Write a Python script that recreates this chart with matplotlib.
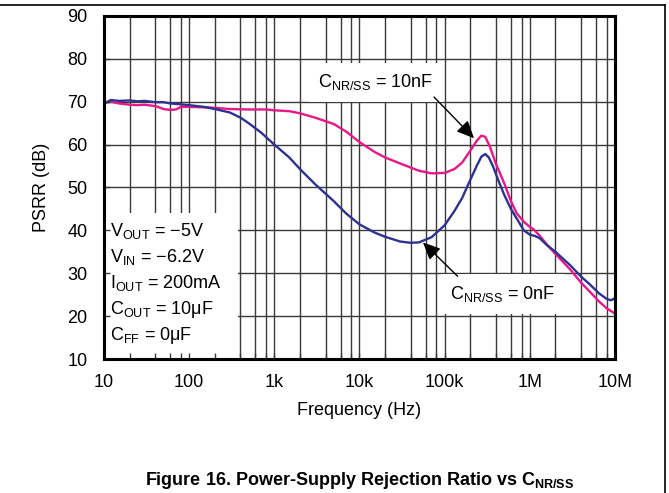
import matplotlib
matplotlib.use("Agg")
import matplotlib.pyplot as plt
from matplotlib.lines import Line2D
from matplotlib.patches import Rectangle
from matplotlib.ticker import FixedLocator, NullFormatter, FixedFormatter

plt.rcParams['font.family'] = ['Liberation Sans', 'DejaVu Sans']
plt.rcParams['mathtext.fontset'] = 'custom'
plt.rcParams['mathtext.rm'] = 'Liberation Sans'
plt.rcParams['mathtext.it'] = 'Liberation Sans:italic'
plt.rcParams['mathtext.bf'] = 'Liberation Sans:bold'
plt.rcParams['mathtext.default'] = 'rm'

# ---------------- data ----------------
freq_10nF = [10, 12, 15, 20, 25, 30, 40, 50, 60, 70, 80, 100, 150, 200, 300, 500, 800,
             1000, 1500, 2000, 3000, 5000, 7000, 10000, 15000, 20000, 30000, 50000,
             70000, 100000, 130000, 160000, 200000, 240000, 270000, 300000, 340000,
             400000, 500000, 600000, 700000, 850000, 1.0e6, 1.1e6, 1.3e6, 1.6e6, 2.0e6,
             3.0e6, 4.0e6, 5.0e6, 6.5e6, 8.0e6, 1.0e7]
psrr_10nF = [69.8, 70.0, 69.6, 69.3, 69.2, 69.3, 69.0, 68.3, 68.1, 68.2, 68.8, 68.8, 68.7,
             68.6, 68.3, 68.2, 68.2, 68.0, 67.8, 67.3, 66.3, 64.8, 63.0, 60.6, 58.3, 57.0,
             55.6, 53.9, 53.3, 53.4, 54.3, 55.8, 58.6, 61.0, 62.1, 61.8, 59.5, 55.5, 51.0,
             46.8, 44.0, 42.0, 40.8, 40.3, 38.8, 36.6, 34.5, 30.8, 27.8, 25.8, 23.4, 21.8,
             20.6]

freq_0nF = [10, 11, 12, 15, 20, 25, 30, 40, 50, 60, 80, 100, 150, 200, 300, 400, 500, 700,
            1000, 1500, 2000, 3000, 5000, 7000, 10000, 15000, 20000, 30000, 40000, 50000,
            70000, 100000, 130000, 160000, 200000, 240000, 270000, 300000, 330000, 370000,
            430000, 500000, 600000, 700000, 850000, 1.0e6, 1.15e6, 1.3e6, 1.6e6, 2.0e6,
            3.0e6, 4.0e6, 5.0e6, 6.5e6, 8.0e6, 9.0e6, 1.0e7]
psrr_0nF = [69.5, 70.0, 70.4, 70.2, 70.3, 70.1, 70.2, 69.9, 69.9, 69.6, 69.4, 69.2, 68.8,
            68.3, 67.5, 66.3, 65.0, 62.8, 60.0, 57.0, 54.3, 50.8, 46.8, 43.9, 41.4, 39.5,
            38.5, 37.4, 37.1, 37.2, 38.4, 41.2, 44.5, 47.5, 51.8, 55.2, 57.2, 57.8, 57.0,
            54.9, 51.5, 48.3, 45.0, 42.8, 40.0, 39.0, 38.7, 38.2, 36.5, 35.0, 31.8, 29.2,
            27.5, 25.3, 24.0, 23.7, 24.2]

x_ticks = [10, 100, 1e3, 1e4, 1e5, 1e6, 1e7]
x_tick_labels = ['10', '100', '1k', '10k', '100k', '1M', '10M']
y_ticks = [10, 20, 30, 40, 50, 60, 70, 80, 90]

conditions = ['V$_{OUT}$ = \u22125V',
              'V$_{IN}$ = \u22126.2V',
              'I$_{OUT}$ = 200mA',
              'C$_{OUT}$ = 10\u03bcF',
              'C$_{FF}$ = 0\u03bcF']

color_10nF = '#E8178A'
color_0nF = '#2E3192'

# ---------------- figure ----------------
W, H = 669, 493
fig = plt.figure(figsize=(W / 100, H / 100), dpi=100)
L, R, T, B = 104, 615, 16, 359
pos = [L / W, 1 - B / H, (R - L) / W, (B - T) / H]
minor = [m * 10 ** e for e in range(1, 7) for m in (2, 4, 6, 8)]
gcol = '#3a3a3a'


def setup(a):
    a.set_xscale('log')
    a.set_xlim(10, 1e7)
    a.set_ylim(10, 90)
    a.xaxis.set_major_locator(FixedLocator(x_ticks))
    a.xaxis.set_minor_locator(FixedLocator(minor))
    a.xaxis.set_minor_formatter(NullFormatter())
    a.yaxis.set_major_locator(FixedLocator(y_ticks))


ax = fig.add_axes(pos)
setup(ax)
ax.xaxis.set_major_formatter(FixedFormatter(x_tick_labels))

ax.grid(True, which='major', axis='both', color=gcol, lw=1.0)
ax.grid(True, which='minor', axis='x', color=gcol, lw=1.0)
ax.tick_params(which='both', length=0, labelsize=13)
ax.tick_params(axis='x', pad=11)
ax.tick_params(axis='y', pad=12)
for s in ax.spines.values():
    s.set_visible(False)

ax.set_xlabel('Frequency (Hz)', fontsize=13, labelpad=8)
ax.set_ylabel('PSRR (dB)', fontsize=13, labelpad=12)

ax.plot(freq_10nF, psrr_10nF, color=color_10nF, lw=1.7, zorder=3)
ax.plot(freq_0nF, psrr_0nF, color=color_0nF, lw=1.7, zorder=3)

# white box for the condition text
ax.add_patch(Rectangle((0, 0), (238 - L) / (R - L), (B - 213) / (B - T),
                       transform=ax.transAxes, facecolor='white', edgecolor='none',
                       zorder=2.5))
ys = [230.7, 256.7, 282.7, 309.3, 336.0]
for txt, yp in zip(conditions, ys):
    ax.text((110 - L) / (R - L), (B - yp) / (B - T), txt, transform=ax.transAxes,
            fontsize=13, ha='left', va='center', zorder=4)

box = dict(boxstyle='square,pad=0.55', facecolor='white', edgecolor='none')
arrow = dict(arrowstyle='-|>,head_length=0.7,head_width=0.32', color='black', lw=1.0,
             mutation_scale=15, shrinkA=0, shrinkB=0)

ax.text(1.56e4, 74.5, 'C$_{NR/SS}$ = 10nF', fontsize=13, ha='center', va='center',
        bbox=box, zorder=4)
ax.annotate('', xy=(2.21e5, 61.5), xytext=(7.5e4, 71.1), arrowprops=arrow, zorder=5)

ax.text(4.84e5, 25.2, 'C$_{NR/SS}$ = 0nF', fontsize=13, ha='center', va='center',
        bbox=box, zorder=4)
ax.annotate('', xy=(5.56e4, 37.2), xytext=(1.42e5, 29.3), arrowprops=arrow, zorder=5)

# overlay axes for spines and inward ticks (drawn above text boxes)
ax2 = fig.add_axes(pos, facecolor='none')
setup(ax2)
ax2.tick_params(which='both', direction='in', length=4, width=1.0, color=gcol,
                labelbottom=False, labelleft=False, top=False, right=False)
ax2.tick_params(axis='y', which='minor', length=0)
for s in ax2.spines.values():
    s.set_linewidth(2.2)
    s.set_color('black')
ax2.grid(False)

# caption
fig.text((L + R) / 2 / W, 0.004, 'Figure 16. Power-Supply Rejection Ratio vs C$_{\\mathbf{NR/SS}}$',
         fontsize=13, fontweight='bold', ha='center', va='bottom')

# page frame lines
fig.add_artist(Line2D([0, 665 / W], [1 - 5 / H, 1 - 5 / H], transform=fig.transFigure,
                      color='black', lw=1.2))
fig.add_artist(Line2D([665 / W, 665 / W], [0, 1 - 5 / H], transform=fig.transFigure,
                      color='black', lw=1.2))

fig.savefig('out.png', dpi=100)
